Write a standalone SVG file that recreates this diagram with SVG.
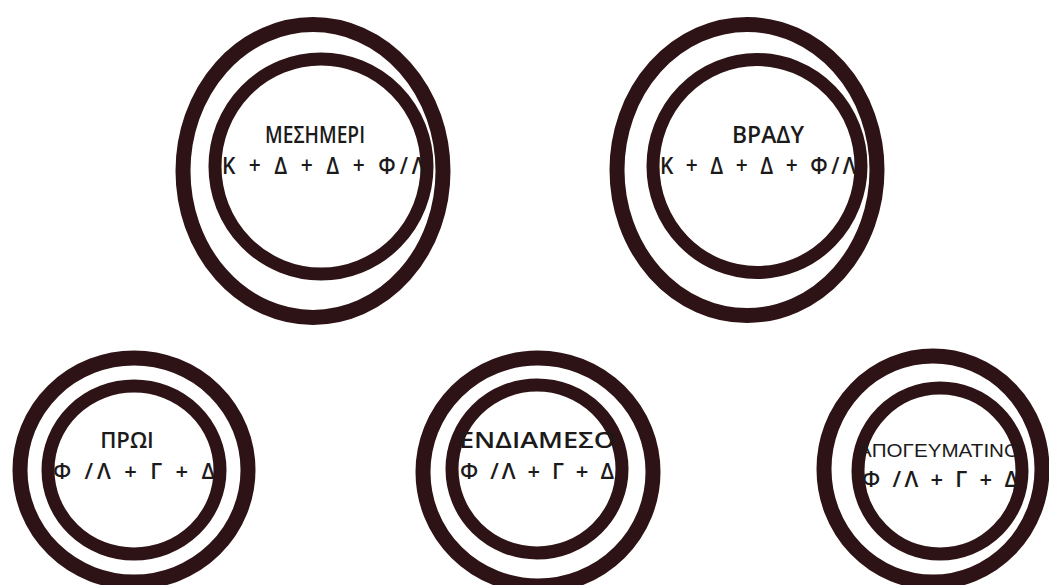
<svg xmlns="http://www.w3.org/2000/svg" width="1049" height="585" viewBox="0 0 1049 585">
<style>
.ring{fill:none;stroke:#2e1316}
.o{stroke-width:15}
.i{stroke-width:13}
.t{font-family:"Open Sans","Noto Sans","DejaVu Sans",sans-serif;font-size:21px;font-weight:600;fill:#1c1a1a}
.b{font-size:22px}
.a{font-family:"Liberation Sans",Arial,sans-serif;font-size:19px;font-weight:400}
.c{text-anchor:middle}
</style>
<rect width="1049" height="585" fill="#ffffff"/>
<g id="connectors"/>
<g id="mesimeri">
<ellipse class="ring o" cx="313" cy="171" rx="130" ry="146.5"/>
<ellipse class="ring i" cx="321" cy="166.5" rx="106" ry="107.5"/>
<text class="t c" transform="translate(315 143) scale(1 1.1)" textLength="100" lengthAdjust="spacingAndGlyphs">ΜΕΣΗΜΕΡΙ</text>
<text class="t" transform="translate(222 174) scale(1 1.1)" textLength="203" lengthAdjust="spacing">Κ + Δ + Δ + Φ/Λ</text>
</g>
<g id="vrady">
<ellipse class="ring o" cx="747" cy="170" rx="130" ry="145.5"/>
<ellipse class="ring i" cx="757" cy="166" rx="104" ry="106.5"/>
<text class="t c" transform="translate(768 143) scale(1 1.1)" textLength="72" lengthAdjust="spacingAndGlyphs">ΒΡΑΔΥ</text>
<text class="t" transform="translate(660 174) scale(1 1.1)" textLength="196" lengthAdjust="spacing">Κ + Δ + Δ + Φ/Λ</text>
</g>
<g id="proi">
<ellipse class="ring o" cx="134" cy="470" rx="114" ry="112"/>
<ellipse class="ring i" cx="134" cy="470" rx="86" ry="84"/>
<text class="t b c" x="127" y="448">ΠΡΩΙ</text>
<text class="t b" x="53" y="479" textLength="162" lengthAdjust="spacing">Φ /Λ + Γ + Δ</text>
</g>
<g id="endiameso">
<ellipse class="ring o" cx="538" cy="472" rx="115" ry="114"/>
<ellipse class="ring i" cx="537" cy="469" rx="85" ry="84"/>
<text class="t b" x="459" y="448" textLength="156" lengthAdjust="spacingAndGlyphs">ΕΝΔΙΑΜΕΣΟ</text>
<text class="t b" x="460" y="479" textLength="154" lengthAdjust="spacing">Φ /Λ + Γ + Δ</text>
</g>
<g id="apogeymatino">
<ellipse class="ring o" cx="933" cy="469" rx="109" ry="113"/>
<ellipse class="ring i" cx="940" cy="471" rx="82" ry="83"/>
<text class="t a" x="858" y="457" textLength="162" lengthAdjust="spacingAndGlyphs">ΑΠΟΓΕΥΜΑΤΙΝΟ</text>
<text class="t b" x="862" y="487" textLength="156" lengthAdjust="spacing">Φ /Λ + Γ + Δ</text>
</g>
</svg>
